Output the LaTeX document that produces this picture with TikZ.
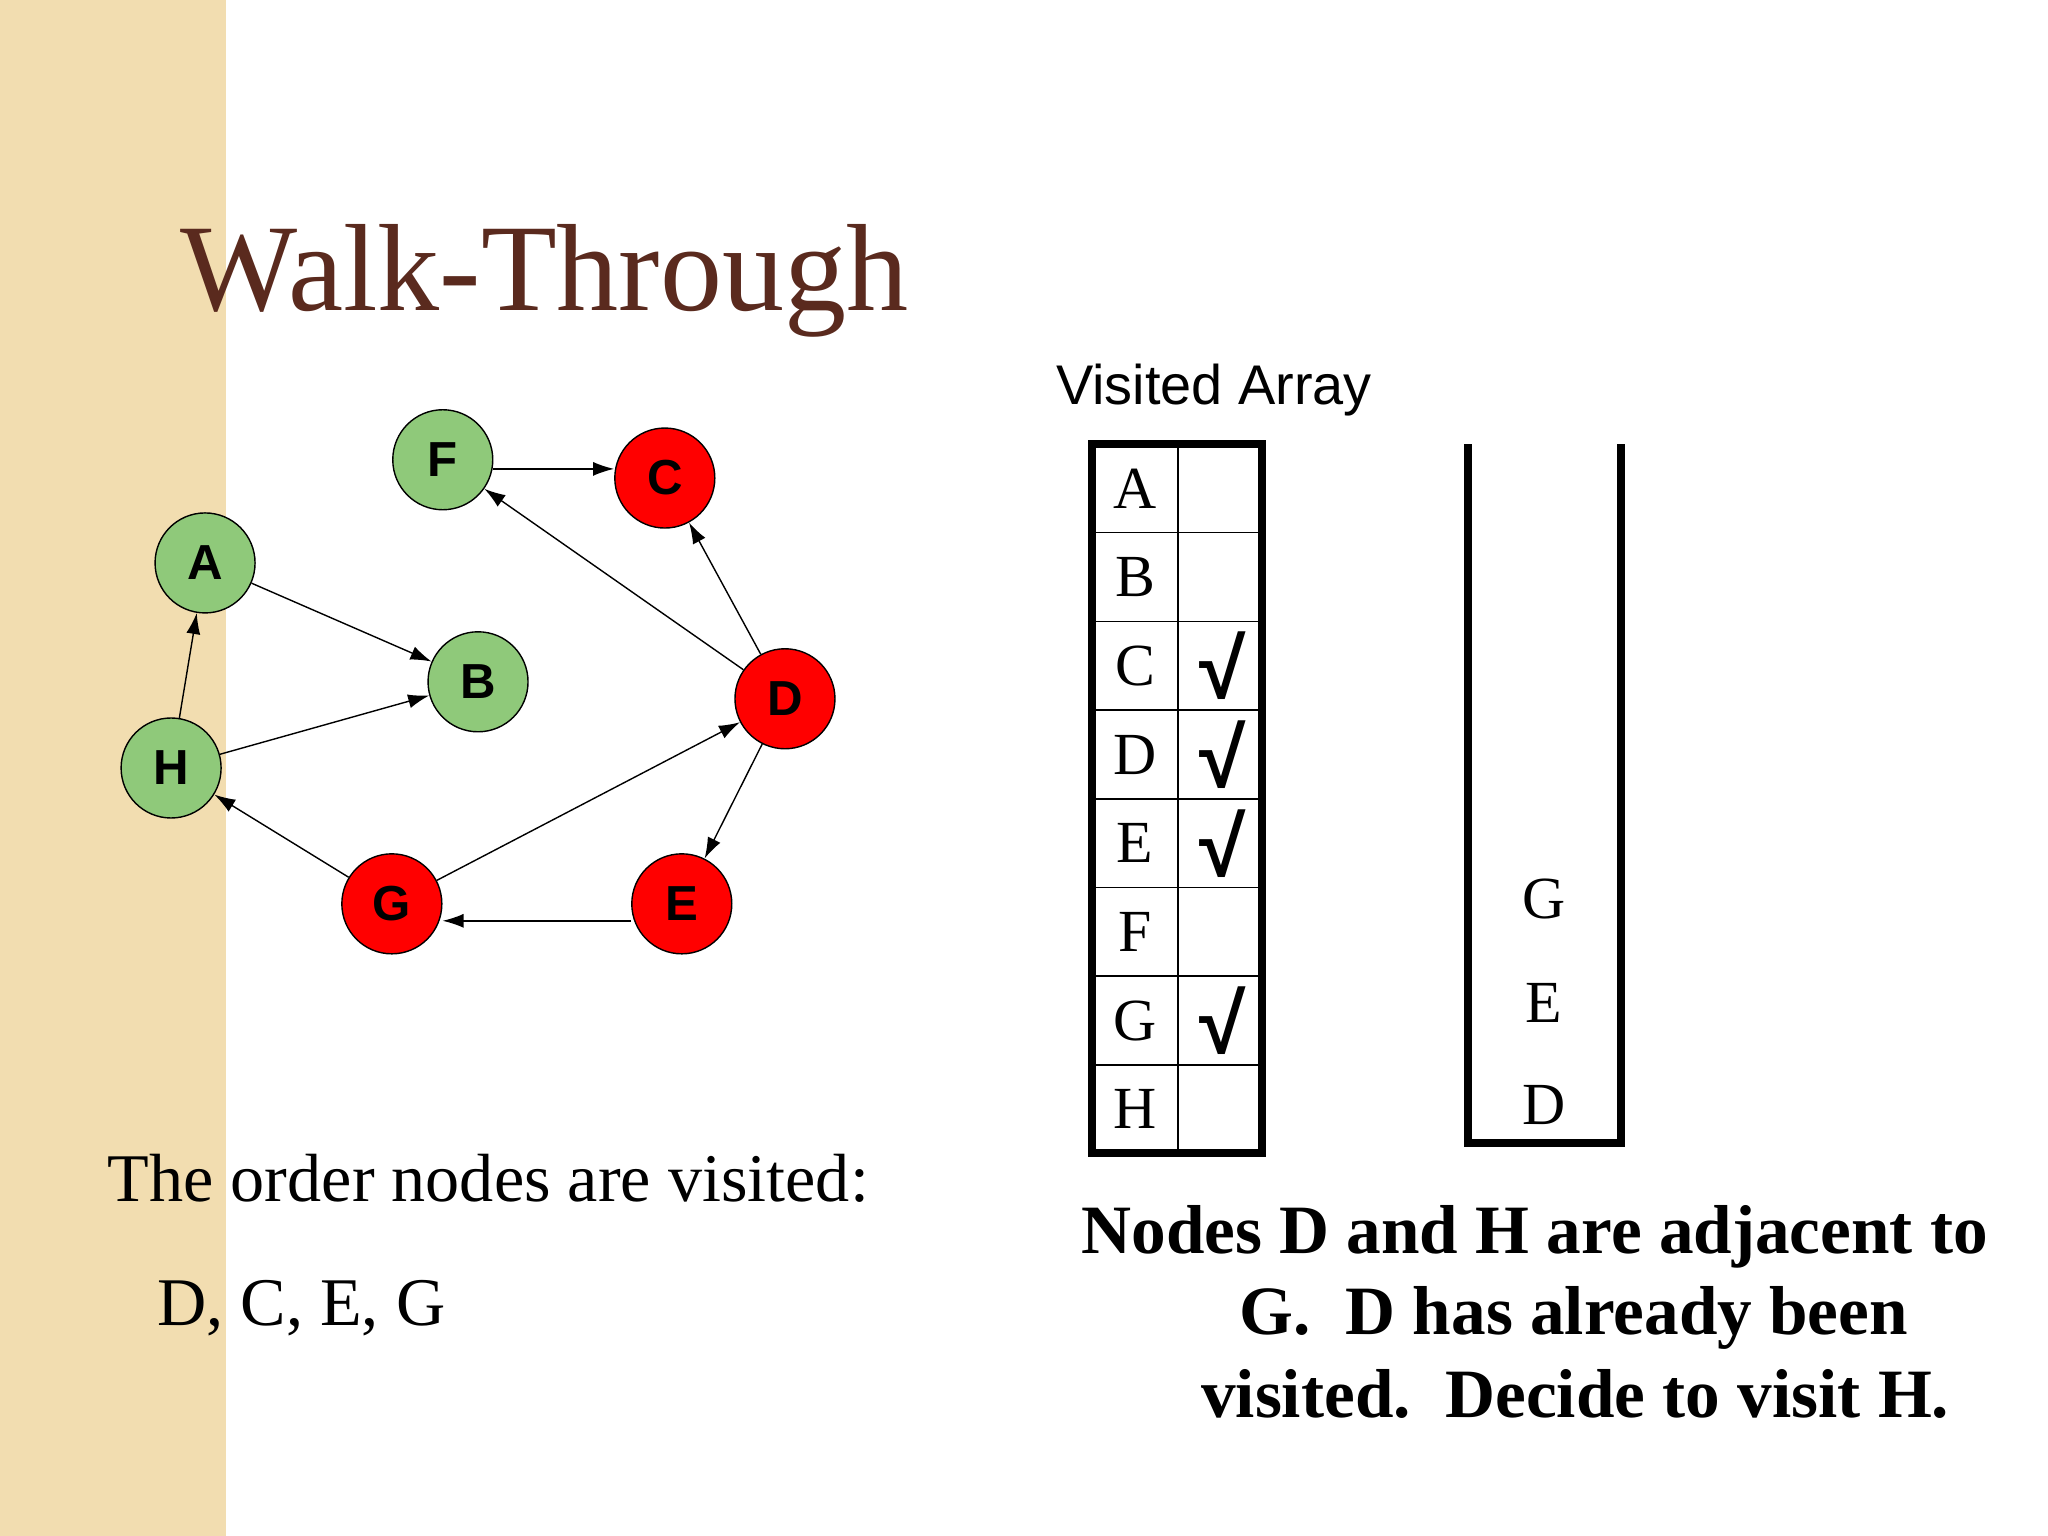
\documentclass[tikz,border=0pt]{standalone}
\usepackage{fontspec}
\setmainfont{Liberation Serif}
\newfontfamily\sans{Liberation Sans}
\usetikzlibrary{arrows.meta}
\definecolor{strip}{HTML}{F2DDB0}
\definecolor{titlec}{HTML}{5A2A1E}
\definecolor{gnode}{HTML}{8FC97A}
\begin{document}
\begin{tikzpicture}[x=0.01306cm,y=-0.01306cm,
  gr/.style={circle,draw=black,fill=gnode,minimum size=1.0cm,inner sep=0pt,font=\sans\fontsize{14}{14}\selectfont\bfseries},
  rd/.style={gr,fill=red},
  ed/.style={-{Latex[length=6pt,width=4pt]},thin},
  cell/.style={font=\fontsize{17}{17}\selectfont},
  chk/.style={font=\sans\fontsize{24}{24}\selectfont\bfseries},
  big/.style={font=\fontsize{19.7}{24}\selectfont\bfseries}]
\useasboundingbox (0,0) rectangle (1568,1176);
\fill[white] (0,0) rectangle (1568,1176);
\fill[strip] (0,0) rectangle (173,1176);
\node[anchor=base west,text=titlec,font=\fontsize{35.3}{40}\selectfont,inner sep=0] (title) at (138,238) {Walk-Through};
% graph
\node[gr] (F) at (339,352) {F};
\node[rd] (C) at (509,366) {C};
\node[gr] (A) at (157,431) {A};
\node[gr] (B) at (366,522) {B};
\node[rd] (D) at (601,535) {D};
\node[gr] (H) at (131,588) {H};
\node[rd] (G) at (300,692) {G};
\node[rd] (E) at (522,692) {E};
\draw[ed] (F.east |- 0,359) -- (C.west |- 0,359);
\draw[ed] (D) -- (F);
\draw[ed] (D) -- (C);
\draw[ed] (A) -- (B);
\draw[ed] (H) -- (B);
\draw[ed] (H) -- (A);
\draw[ed] (D) -- (E);
\draw[ed] (E.west |- 0,705) -- (G.east |- 0,705);
\draw[ed] (G) -- (D);
\draw[ed] (G) -- (H);
% visited array
\node[font=\sans\fontsize{15.9}{16}\selectfont,anchor=base west,inner sep=0] (va) at (808,310) {Visited Array};
\draw[line width=2.2pt] (836,340) rectangle (966,883);
\draw[thin] (902,340) -- (902,883);
\foreach \i/\l/\c in {0/A/,1/B/,2/C/√,3/D/√,4/E/√,5/F/,6/G/√,7/H/}{
  \pgfmathsetmacro\yy{340+67.9*\i+34}
  \node[cell] (r\l) at (869,\yy) {\l};
  \node[chk] (k\l) at (936,\yy) {\c};
  \ifnum\i>0 \draw[thin] (836,340+67.9*\i) -- (966,340+67.9*\i);\fi
}
% stack
\draw[line width=2.2pt] (1124,340) -- (1124,875) -- (1241,875) -- (1241,340);
\node[cell] (sG) at (1182,688) {G};
\node[cell] (sE) at (1182,768) {E};
\node[cell] (sD) at (1182,846) {D};
% texts
\node[anchor=base west,inner sep=0,font=\fontsize{19.4}{24}\selectfont] (t1) at (82,920) {The order nodes are visited:};
\node[anchor=base west,inner sep=0,font=\fontsize{19.4}{24}\selectfont] (t2) at (120,1015) {D, C, E, G};
\node[anchor=base,inner sep=0,big] (b1) at (1175,960) {Nodes D and H are adjacent to};
\node[anchor=base,inner sep=0,big] (b2) at (1205,1022) {G.\ \ D has already been};
\node[anchor=base,inner sep=0,big] (b3) at (1206,1085) {visited.\ \ Decide to visit H.};
\end{tikzpicture}
\end{document}
